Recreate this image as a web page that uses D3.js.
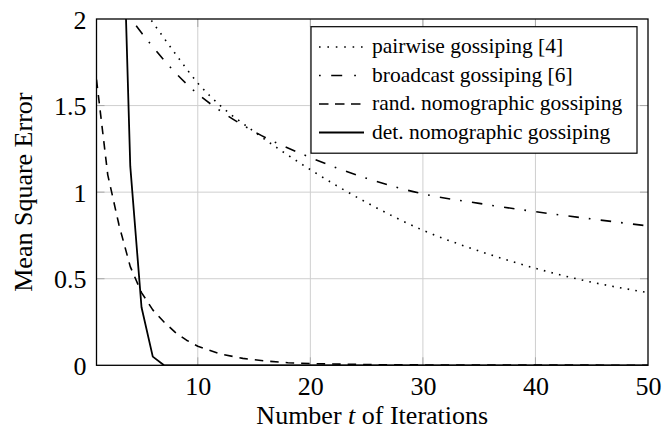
<!DOCTYPE html>
<html><head><meta charset="utf-8">
<script src="https://cdn.jsdelivr.net/npm/d3@7"></script>
</head><body style="margin:0">
<svg id="c" width="664" height="433"></svg>
<script>
// ---- data ----
const xTicks = [10, 20, 30, 40, 50];
const yTicks = [0, 0.5, 1, 1.5, 2];
const yTickLabels = ["0", "0.5", "1", "1.5", "2"];

const tPairwise = [4, 5, 6, 8, 10, 12, 15, 20, 25, 30, 35, 40, 45, 50];
const pairwise  = [2.18, 2.07, 1.98, 1.80, 1.63, 1.50, 1.35, 1.13, 0.94, 0.78, 0.66, 0.56, 0.48, 0.42];

const tBroadcast = [3, 4, 5, 6, 8, 10, 12, 15, 20, 25, 30, 35, 40, 45, 50];
const broadcast  = [2.12, 2.01, 1.92, 1.84, 1.69, 1.567, 1.47, 1.35, 1.20, 1.08, 0.99, 0.935, 0.887, 0.845, 0.805];

const tRand = [1, 2, 3, 4, 5, 6, 7, 8, 9, 10, 12, 14, 16, 18, 20, 25, 30, 40, 50];
const rand  = [1.65, 1.10, 0.81, 0.57, 0.42, 0.32, 0.25, 0.19, 0.145, 0.11, 0.065, 0.04, 0.025, 0.015, 0.01, 0.004, 0.002, 0.001, 0.0005];

const tDet = [3, 4, 5, 6, 7, 10, 20, 30, 40, 50];
const det  = [3.4, 1.15, 0.335, 0.05, 0, 0, 0, 0, 0, 0];

const seriesNames = ["pairwise gossiping [4]", "broadcast gossiping [6]", "rand. nomographic gossiping", "det. nomographic gossiping"];

// ---- layout ----
const L = 96.5, R = 648, T = 19, B = 365.3;
const FONT = '"Liberation Serif"';
const svg = d3.select("#c");
const x = d3.scaleLinear().domain([1, 50]).range([L, R]);
const y = d3.scaleLinear().domain([0, 2]).range([B, T]);

// grid
const g = svg.append("g");
g.selectAll(".gx").data(xTicks.filter(d => d < 50)).enter().append("line")
  .attr("x1", d => x(d)).attr("x2", d => x(d)).attr("y1", T).attr("y2", B)
  .attr("stroke", "#cfcfcf").attr("stroke-width", 1);
g.selectAll(".gy").data(yTicks.filter(d => d > 0 && d < 2)).enter().append("line")
  .attr("x1", L).attr("x2", R).attr("y1", d => y(d)).attr("y2", d => y(d))
  .attr("stroke", "#cfcfcf").attr("stroke-width", 1);
// tick marks (inside, all sides)
const tl = 8;
xTicks.filter(d => d < 50).forEach(d => {
  g.append("line").attr("x1", x(d)).attr("x2", x(d)).attr("y1", B).attr("y2", B - tl).attr("stroke", "#a8a8a8");
  g.append("line").attr("x1", x(d)).attr("x2", x(d)).attr("y1", T).attr("y2", T + tl).attr("stroke", "#a8a8a8");
});
yTicks.filter(d => d > 0 && d < 2).forEach(d => {
  g.append("line").attr("x1", L).attr("x2", L + tl).attr("y1", y(d)).attr("y2", y(d)).attr("stroke", "#a8a8a8");
  g.append("line").attr("x1", R).attr("x2", R - tl).attr("y1", y(d)).attr("y2", y(d)).attr("stroke", "#a8a8a8");
});

// axes via d3
const xAxis = d3.axisBottom(x).tickValues(xTicks).tickSize(0).tickPadding(11).tickFormat(d3.format("d"));
const ax = svg.append("g").attr("transform", `translate(0,${B})`).call(xAxis);
ax.select(".domain").remove();
ax.attr("font-family", FONT).attr("font-size", 26);
ax.selectAll("text").attr("font-family", FONT).attr("font-size", 26).attr("fill", "#000");

const yAxis = d3.axisLeft(y).tickValues(yTicks).tickSize(0).tickPadding(10).tickFormat((d, i) => yTickLabels[i]);
const ay = svg.append("g").attr("transform", `translate(${L},0)`).call(yAxis);
ay.select(".domain").remove();
ay.attr("font-family", FONT).attr("font-size", 26);
ay.selectAll("text").attr("font-family", FONT).attr("font-size", 26).attr("fill", "#000").attr("dy", "0.35em");

// clip
svg.append("clipPath").attr("id", "clip").append("rect")
  .attr("x", L).attr("y", T).attr("width", R - L).attr("height", B - T);

const styles = [
  { dash: "1.6,6.2", curve: d3.curveMonotoneX, w: 1.6 },
  { dash: "10.5,10,1.7,10.3", curve: d3.curveMonotoneX, w: 1.6 },
  { dash: "8.5,7", curve: d3.curveLinear, w: 1.6 },
  { dash: null, curve: d3.curveLinear, w: 1.8 }
];
const allSeries = [
  tPairwise.map((t, i) => [t, pairwise[i]]),
  tBroadcast.map((t, i) => [t, broadcast[i]]),
  tRand.map((t, i) => [t, rand[i]]),
  tDet.map((t, i) => [t, det[i]])
];
const plot = svg.append("g").attr("clip-path", "url(#clip)");
allSeries.forEach((s, i) => {
  const line = d3.line().x(d => x(d[0])).y(d => y(d[1])).curve(styles[i].curve);
  plot.append("path").attr("d", line(s)).attr("fill", "none").attr("stroke", "#000")
    .attr("stroke-width", styles[i].w).attr("stroke-dasharray", styles[i].dash)
    .attr("stroke-linejoin", "round");
});

// frame
svg.append("rect").attr("x", L).attr("y", T).attr("width", R - L).attr("height", B - T)
  .attr("fill", "none").attr("stroke", "#000").attr("stroke-width", 1.3);

// legend
const lg = svg.append("g");
const lx = 311, ly = 26.7, lw = 326, lh = 126.5;
lg.append("rect").attr("x", lx).attr("y", ly).attr("width", lw).attr("height", lh)
  .attr("fill", "#fff").attr("stroke", "#000").attr("stroke-width", 1.2);
const rowY = [47, 75.5, 104, 132.5];
const legDash = ["1.6,6.8", "1.7,10.5,11,12,1.7,10", "9.5,6.5", null];
seriesNames.forEach((n, i) => {
  lg.append("line").attr("x1", 319).attr("x2", 364).attr("y1", rowY[i]).attr("y2", rowY[i])
    .attr("stroke", "#000").attr("stroke-width", styles[i].w).attr("stroke-dasharray", legDash[i]);
  lg.append("text").attr("x", 372).attr("y", rowY[i]).attr("dy", "0.3em")
    .attr("font-family", FONT).attr("font-size", 21.5).text(n);
});

// axis labels
const xl = svg.append("text").attr("x", (L + R) / 2).attr("y", 424).attr("text-anchor", "middle")
  .attr("font-family", FONT).attr("font-size", 26);
xl.append("tspan").text("Number ");
xl.append("tspan").attr("font-style", "italic").text("t");
xl.append("tspan").text(" of Iterations");

svg.append("text").attr("transform", `translate(32,${(T + B) / 2}) rotate(-90)`).attr("text-anchor", "middle")
  .attr("font-family", FONT).attr("font-size", 26).text("Mean Square Error");
</script>
</body></html>
